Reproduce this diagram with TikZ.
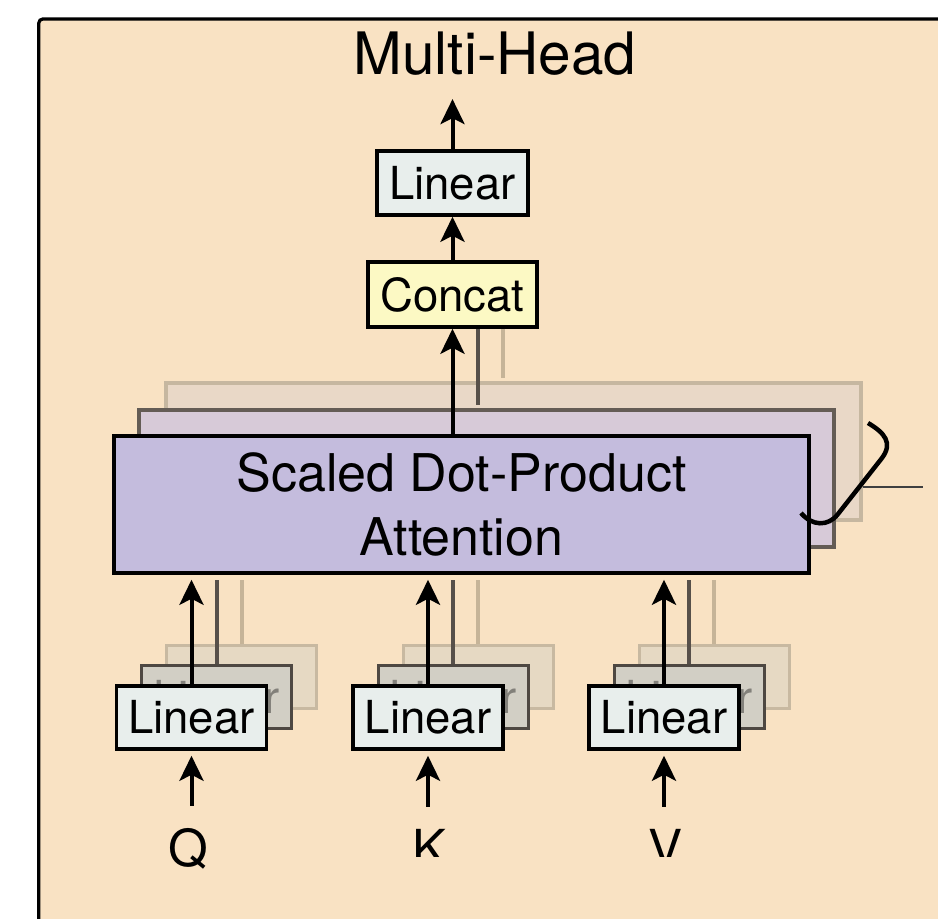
\documentclass[tikz,border=0pt]{standalone}
\usepackage{fontspec}
\setmainfont{TeX Gyre Heros}
\usetikzlibrary{arrows.meta,calc}

\definecolor{peach}{HTML}{F9E2C3}
\definecolor{linfill}{HTML}{E8EEEC}
\definecolor{ccfill}{HTML}{FCF9C4}
\definecolor{sdfill}{HTML}{C4BCDD}
\definecolor{sdmidfill}{HTML}{D7CAD8}
\definecolor{sdmiddraw}{HTML}{645C55}
\definecolor{sdbackfill}{HTML}{E9D8C7}
\definecolor{sdbackdraw}{HTML}{C6B7A0}
\definecolor{linmidfill}{HTML}{D2CFC5}
\definecolor{linmiddraw}{HTML}{4E4842}
\definecolor{linbackfill}{HTML}{E6D9C3}
\definecolor{linbackdraw}{HTML}{C8B9A1}
\definecolor{midline}{HTML}{57504A}
\definecolor{backline}{HTML}{C6B498}

\tikzset{
  box/.style={draw=black, line width=3.5pt, inner sep=0pt},
  linbox/.style={box, fill=linfill, minimum width=150pt, minimum height=63pt,
    font=\fontsize{45.5}{50}\selectfont},
  ccbox/.style={box, fill=ccfill, minimum width=169pt, minimum height=65pt,
    font=\fontsize{45.5}{50}\selectfont},
  sdbox/.style={box, minimum width=695pt, minimum height=137pt},
  lbl/.style={inner sep=0pt, anchor=base, font=\fontsize{51}{55}\selectfont},
  arr/.style={line width=4pt, -{Stealth[length=25pt,width=24pt,inset=6pt]}},
  midln/.style={line width=4pt, draw=midline},
  backln/.style={line width=4pt, draw=backline},
}

\begin{document}
\begin{tikzpicture}[x=1pt,y=-1pt]
\clip (0,0) rectangle (938,919);
\fill[white] (0,0) rectangle (938,919);
% framed block
\draw[line width=3.2pt, fill=peach, rounded corners=4pt] (38.8,19) rectangle (1000,1000);

% output side
\node[inner sep=0pt, anchor=base, font=\fontsize{58.5}{62}\selectfont] (mh) at (495,74) {Multi-Head};
\node[linbox, minimum width=151pt, minimum height=64pt] (lo) at (452.5,183) {Linear};
\node[ccbox] (cc) at (452.5,294.5) {Concat};
\coordinate (cm) at ([xshift=25pt]cc.south);
\coordinate (cb) at ([xshift=50pt]cc.south);

% stacked attention heads
\node[sdbox, fill=sdbackfill, draw=sdbackdraw] (sdb) at (513.5,451.5) {};
\draw[backln, shorten >=3pt] (cb) -- (cb |- sdb.north);
\node[sdbox, fill=sdmidfill, draw=sdmiddraw] (sdm) at (486.5,478.5) {};
\draw[midln, shorten >=3pt] (cm) -- (cm |- sdm.north);
\node[sdbox, fill=sdfill, align=center, font=\fontsize{52}{64}\selectfont] (sd) at (461.5,504.5)
  {Scaled Dot-Product\\Attention};

\draw[arr] (sd.north -| cc.south) -- (cc.south);
\draw[arr] (cc.north) -- (lo.south);
\draw[arr, shorten >=24pt] (lo.north) -- (lo.north |- mh.south);

% stacked input projections
\foreach \n/\x in {q/191.5,k/428,v/664}{
  \node[linbox, fill=linbackfill, draw=linbackdraw, line width=3pt] (l\n back) at ({\x+50},676.5) {};
  \draw[backln, shorten >=5pt] (l\n back.north) -- (l\n back.north |- sd.south);
  \node[linbox, fill=linmidfill, draw=linmiddraw, line width=3pt, text=black!38!linmidfill]
    (l\n mid) at ({\x+25},697) {Linear};
  \draw[midln, shorten >=5pt] (l\n mid.north) -- (l\n mid.north |- sd.south);
  \node[linbox] (l\n) at (\x,717.5) {Linear};
  \draw[arr, shorten >=5pt] (l\n.north) -- (l\n.north |- sd.south);
}

% inputs
\node[lbl] (qin) at (188,866) {Q};
\begin{scope}
  \clip (300,780) rectangle (900,856);
  \node[lbl] (kin) at (430,866) {K};
  \node[lbl] (vin) at (666,866) {V};
\end{scope}
\foreach \n in {q,k,v}{
  \draw[arr, shorten <=22pt, shorten >=5pt] (\n in.north -| l\n.south) -- (l\n.south);
}

% brace over the heads
\draw[line width=4.5pt] (868,423) .. controls (885,433) and (893,443) .. (882,458)
  -- (838,514) .. controls (828,527) and (812,526) .. (801,513);
\draw[line width=1.2pt, draw=black!75] (sdb.east |- 0,487) -- (923,487);
\end{tikzpicture}
\end{document}
